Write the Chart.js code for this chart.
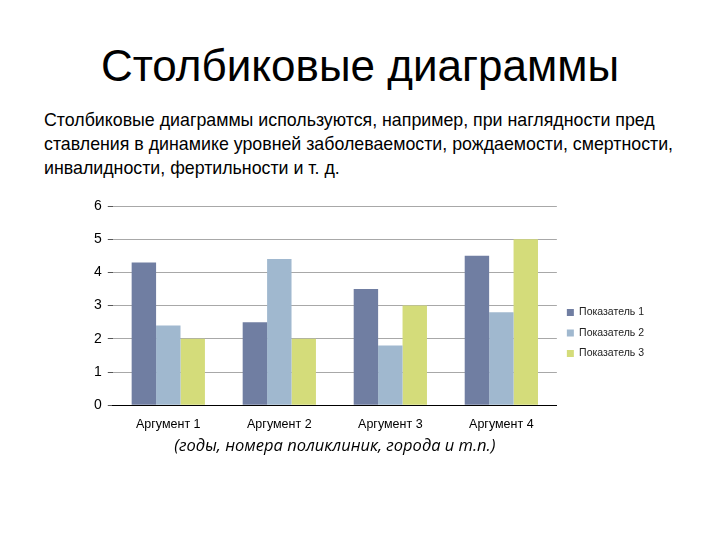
<!DOCTYPE html>
<html>
<head>
<meta charset="utf-8">
<script src="https://cdn.jsdelivr.net/npm/chart.js@4"></script>
<style>
  body { margin: 0; width: 720px; height: 540px; background: #fff; position: relative; overflow: hidden; }
  #title { position: absolute; left: 0; width: 720px; top: 41px; text-align: center;
           font-family: "Liberation Sans", Arial, sans-serif; font-size: 44px; color: #000; }
  #text { position: absolute; left: 44px; top: 108px; font-family: "Liberation Sans", Arial, sans-serif;
          font-size: 17.8px; line-height: 24px; color: #000; }
  #wrap { position: absolute; left: 0; top: 185px; width: 720px; height: 275px; }
</style>
</head>
<body>
<div id="title">Столбиковые диаграммы</div>
<div id="text">Столбиковые диаграммы используются, например, при наглядности пред<br>ставления в динамике уровней заболеваемости, рождаемости, смертности,<br>инвалидности, фертильности и т. д.</div>
<div id="wrap"><canvas id="chart"></canvas></div>
<script>
const categories = ['Аргумент 1', 'Аргумент 2', 'Аргумент 3', 'Аргумент 4'];
const seriesNames = ['Показатель 1', 'Показатель 2', 'Показатель 3'];
const series1 = [4.3, 2.5, 3.5, 4.5];
const series2 = [2.4, 4.4, 1.8, 2.8];
const series3 = [2.0, 2.0, 3.0, 5.0];
const yTicks = [0, 1, 2, 3, 4, 5, 6];
const axisTitle = '(годы, номера поликлиник, города и т.п.)';

const colors = ['#707ea2', '#a0b8cf', '#d4dc7a'];

new Chart(document.getElementById('chart'), {
    type: 'bar',
    data: {
        labels: categories,
        datasets: [series1, series2, series3].map((vals, i) => ({
            label: seriesNames[i],
            data: vals,
            backgroundColor: colors[i],
            borderWidth: 0,
        })),
    },
    options: {
        responsive: true,
        maintainAspectRatio: false,
        animation: false,
        layout: { padding: { left: 88, right: 66, top: 21, bottom: 0 } },
        datasets: { bar: { categoryPercentage: 0.66, barPercentage: 1.0 } },
        plugins: {
            legend: {
                position: 'right',
                align: 'center',
                labels: {
                    boxWidth: 7, boxHeight: 7, padding: 10,
                    color: '#222',
                    font: { family: 'Liberation Sans, Arial', size: 10.5 },
                },
            },
            tooltip: { enabled: false },
        },
        scales: {
            x: {
                grid: { display: false },
                border: { display: true, color: '#000', width: 1 },
                ticks: { color: '#000', font: { family: 'Liberation Sans, Arial', size: 12.5 }, padding: 4 },
                title: {
                    display: true, text: axisTitle, color: '#000',
                    font: { family: 'Open Sans', size: 16.5, style: 'italic' }, padding: { top: 0 },
                },
            },
            y: {
                min: 0, max: 6,
                afterBuildTicks: (axis) => { axis.ticks = yTicks.map(v => ({ value: v })); },
                border: { display: false },
                grid: { color: '#a8a8a8', tickLength: 5, tickColor: '#555' },
                ticks: { color: '#000', font: { family: 'Liberation Sans, Arial', size: 14 }, padding: 6 },
            },
        },
    },
});
</script>
</body>
</html>
